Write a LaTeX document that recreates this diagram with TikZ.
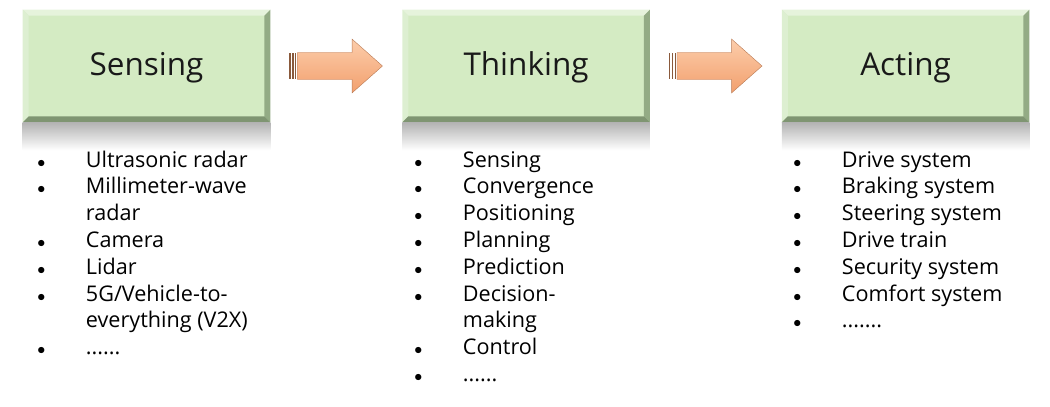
\documentclass[tikz,border=0pt]{standalone}
\usepackage{fontspec}
\setmainfont{Open Sans}
\usetikzlibrary{positioning,shapes.arrows}

\definecolor{boxface}{HTML}{D4EBC3}
\definecolor{boxtop}{HTML}{E6F3DC}
\definecolor{boxleft}{HTML}{DDEFD1}
\definecolor{boxright}{HTML}{93AB85}
\definecolor{boxbottom}{HTML}{7F9572}
\definecolor{arrowlight}{HTML}{FCCDAB}
\definecolor{arrowdark}{HTML}{F2A06E}
\definecolor{arrowedge}{HTML}{B87A55}
\definecolor{stripe}{HTML}{8A5A3C}

\tikzset{
  stagebox/.style={minimum width=185.25pt, minimum height=84pt, inner sep=0pt,
    text height=13.5pt, text depth=0pt,
    fill=boxface, font=\fontsize{23.6pt}{28pt}\selectfont, text=black!90},
  stagearrow/.style={single arrow, minimum height=63.75pt,
    single arrow head extend=10pt, single arrow head indent=0pt,
    single arrow tip angle=83, inner xsep=0pt, inner ysep=10pt,
    shade, top color=arrowlight, bottom color=arrowdark, draw=arrowedge, line width=0.3pt},
  itemlist/.style={anchor=base west, inner sep=0pt,
    font=\fontsize{16.2pt}{20.1pt}\selectfont}
}

% bevelled edges of a stage box
\newcommand\stagebevel[1]{%
  \fill[boxtop] (#1.north west) -- (#1.north east) -- ([shift={(-4.5pt,-4.5pt)}]#1.north east) -- ([shift={(4.5pt,-4.5pt)}]#1.north west) -- cycle;
  \fill[boxleft] (#1.north west) -- ([shift={(4.5pt,-4.5pt)}]#1.north west) -- ([shift={(4.5pt,4.5pt)}]#1.south west) -- (#1.south west) -- cycle;
  \fill[boxright] (#1.north east) -- ([shift={(-4.5pt,-4.5pt)}]#1.north east) -- ([shift={(-4.5pt,4.5pt)}]#1.south east) -- (#1.south east) -- cycle;
  \fill[boxbottom] (#1.south west) -- ([shift={(4.5pt,4.5pt)}]#1.south west) -- ([shift={(-4.5pt,4.5pt)}]#1.south east) -- (#1.south east) -- cycle;
  \shade[top color=black!30, bottom color=white] (#1.south west) rectangle ([yshift=-21pt]#1.south east);
}

% tail stripes of a block arrow
\newcommand\arrowstripes[1]{%
  \fill[stripe] ([shift={(-6pt,-10pt)}]#1.tail) rectangle ++(1pt,20pt);
  \fill[stripe] ([shift={(-3.8pt,-10pt)}]#1.tail) rectangle ++(1pt,20pt);
  \fill[stripe] ([shift={(-1.6pt,-10pt)}]#1.tail) rectangle ++(1pt,20pt);
}

\newcommand\listrows[1]{\begin{tabular}[t]{@{}p{36.5pt}@{}l@{}}#1\end{tabular}}
\newcommand\dotmark{{\fontsize{12.5pt}{0pt}\selectfont$\bullet$}}

\begin{document}
\begin{tikzpicture}[x=0.75pt,y=-0.75pt]
  \useasboundingbox (0,0) rectangle (1050,407);

  \node[stagebox] (sensing) at (146.5,66) {Sensing};
  \node[stagebox, right=99pt of sensing] (thinking) {Thinking};
  \node[stagebox, right=99pt of thinking] (acting) {Acting};

  \foreach \s in {sensing,thinking,acting} {\stagebevel{\s}}

  \node[stagearrow, right=20.25pt of sensing] (toThink) {};
  \node[stagearrow, right=20.25pt of thinking] (toAct) {};
  \arrowstripes{toThink}
  \arrowstripes{toAct}

  \node[itemlist] (senseList) at (37,167) {\listrows{%
    \dotmark & Ultrasonic radar\\
    \dotmark & Millimeter-wave\\
             & radar\\
    \dotmark & Camera\\
    \dotmark & Lidar\\
    \dotmark & 5G/Vehicle-to-\\
             & everything (V2X)\\
    \dotmark & ......}};
  \node[itemlist] (thinkList) at (414,167) {\listrows{%
    \dotmark & Sensing\\
    \dotmark & Convergence\\
    \dotmark & Positioning\\
    \dotmark & Planning\\
    \dotmark & Prediction\\
    \dotmark & Decision-\\
             & making\\
    \dotmark & Control\\
    \dotmark & ......}};
  \node[itemlist] (actList) at (793,167) {\listrows{%
    \dotmark & Drive system\\
    \dotmark & Braking system\\
    \dotmark & Steering system\\
    \dotmark & Drive train\\
    \dotmark & Security system\\
    \dotmark & Comfort system\\
    \dotmark & .......}};
\end{tikzpicture}
\end{document}
